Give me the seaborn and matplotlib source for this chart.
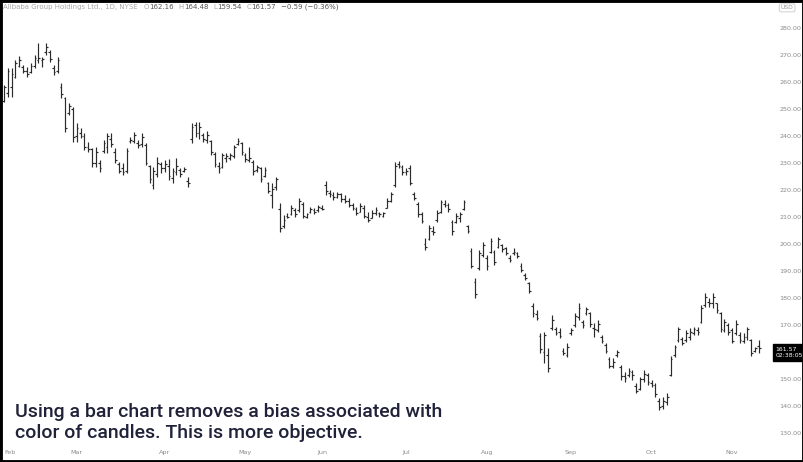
import pandas as pd
import numpy as np
import matplotlib.pyplot as plt
import seaborn as sns
from matplotlib.patches import Rectangle

# Daily OHLC, Alibaba (BABA)
highs = [259.0, 265.0, 265.0, 268.0, 269.7, 266.3, 265.4, 266.9, 270.0, 274.3,
         269.4, 274.3, 271.9, 266.3, 269.4, 259.5, 254.6, 252.1, 250.9, 244.7,
         242.9, 241.0, 237.9, 235.4, 236.0, 231.1, 238.5, 241.0, 241.2, 235.4,
         230.5, 229.9, 235.4, 239.7, 241.6, 238.5, 241.0, 237.3, 229.3, 228.6,
         232.3, 230.5, 231.1, 231.4, 228.0, 231.7, 228.0, 228.6, 224.9, 244.7,
         245.3, 245.3, 241.0, 242.0, 238.5, 234.2, 230.5, 233.8, 233.6, 233.6,
         236.7, 239.1, 237.9, 233.6, 236.0, 231.1, 229.3, 228.6, 228.6, 223.1,
         222.6, 224.9, 215.1, 210.7, 211.4, 214.4, 213.2, 217.2, 215.7, 211.4,
         213.8, 213.4, 214.4, 214.4, 223.3, 220.0, 219.4, 219.4, 218.8, 218.1,
         216.9, 215.1, 213.8, 215.1, 214.4, 212.0, 212.6, 213.8, 212.0, 212.0,
         216.9, 219.4, 230.5, 230.9, 229.3, 228.0, 229.3, 219.4, 215.7, 212.0,
         202.1, 207.0, 206.7, 212.6, 216.3, 216.3, 215.1, 208.9, 211.4, 212.0,
         216.3, 207.0, 198.4, 187.3, 197.8, 200.9, 195.9, 202.1, 197.8, 202.7,
         200.2, 199.0, 195.9, 198.4, 197.2, 192.9, 189.1, 186.0, 178.0, 175.6,
         166.9, 167.5, 161.4, 173.7, 169.4, 168.8, 161.4, 163.2, 168.8, 174.3,
         178.0, 171.9, 176.8, 175.0, 170.6, 171.9, 166.3, 163.2, 158.3, 157.7,
         160.7, 155.2, 152.7, 154.0, 153.3, 148.4, 150.9, 153.3, 152.1, 149.6,
         148.4, 142.9, 143.5, 144.7, 158.5, 162.6, 169.4, 165.7, 168.1, 168.8,
         169.4, 169.4, 177.4, 181.7, 179.9, 182.0, 178.3, 174.9, 172.1, 170.6,
         168.8, 171.9, 167.5, 166.9, 169.4, 165.0, 162.0, 164.48]
lows = [252.6, 254.5, 254.3, 261.4, 265.7, 263.2, 262.0, 263.2, 265.1, 266.9,
        265.7, 270.0, 267.5, 262.6, 263.2, 254.0, 241.6, 247.8, 237.9, 237.9,
        239.1, 234.8, 234.2, 228.6, 228.6, 226.8, 233.6, 233.8, 236.0, 229.9,
        226.2, 225.6, 226.2, 237.3, 237.3, 235.4, 236.0, 229.3, 222.5, 220.4,
        224.9, 226.2, 226.8, 223.7, 222.5, 225.6, 224.9, 226.8, 221.2, 237.3,
        239.7, 238.8, 237.9, 237.3, 233.0, 228.6, 226.2, 228.0, 230.5, 231.1,
        231.7, 236.7, 233.0, 230.5, 230.5, 225.6, 226.8, 223.1, 224.9, 218.8,
        213.3, 220.0, 204.6, 205.8, 209.5, 210.7, 210.1, 212.0, 209.5, 209.5,
        211.4, 211.0, 212.0, 212.6, 218.1, 217.5, 216.3, 216.9, 215.7, 215.1,
        213.8, 212.6, 210.7, 212.0, 209.5, 208.3, 209.5, 210.7, 210.1, 210.1,
        213.2, 215.7, 221.2, 228.0, 225.6, 225.6, 221.9, 216.3, 210.1, 207.7,
        197.8, 201.5, 203.3, 208.3, 211.4, 213.8, 212.0, 203.3, 207.7, 208.3,
        212.6, 204.0, 191.0, 179.9, 190.4, 195.3, 190.4, 196.6, 192.2, 198.4,
        197.2, 195.9, 193.4, 195.9, 194.7, 189.8, 186.7, 181.7, 173.1, 171.9,
        159.5, 155.8, 152.7, 168.1, 166.3, 165.1, 158.9, 158.3, 166.3, 169.4,
        171.9, 169.0, 173.7, 169.4, 165.7, 167.5, 163.2, 159.5, 154.0, 154.0,
        158.3, 149.6, 149.0, 150.9, 149.6, 144.7, 145.9, 149.0, 147.8, 147.2,
        143.5, 138.5, 139.1, 140.4, 151.0, 158.3, 163.8, 162.6, 163.8, 164.4,
        166.3, 166.3, 170.6, 176.8, 176.8, 176.2, 174.3, 167.5, 167.5, 166.3,
        163.2, 166.3, 163.2, 163.2, 164.4, 158.5, 160.1, 159.54]
opens = [253.0, 256.0, 258.0, 262.0, 266.0, 265.5, 264.0, 263.5, 266.0, 268.0,
         268.0, 271.0, 271.0, 265.0, 264.0, 258.0, 254.0, 248.5, 250.0, 240.0,
         241.0, 240.0, 236.0, 235.0, 230.0, 230.0, 234.5, 236.0, 239.0, 234.0,
         229.5, 228.0, 227.0, 238.0, 238.0, 237.5, 237.0, 236.5, 229.0, 222.0,
         226.0, 229.5, 228.0, 229.0, 224.5, 226.5, 227.5, 227.0, 223.5, 239.0,
         244.0, 241.0, 240.5, 238.5, 238.0, 233.5, 229.0, 228.5, 232.0, 232.0,
         232.5, 237.0, 237.5, 233.0, 231.0, 230.5, 227.5, 228.0, 225.0, 222.5,
         218.0, 221.0, 213.0, 206.5, 210.5, 211.0, 212.5, 212.5, 215.0, 210.0,
         212.0, 212.5, 212.5, 213.5, 222.0, 219.0, 218.0, 217.5, 218.5, 216.5,
         216.0, 214.5, 213.0, 212.0, 213.5, 210.0, 209.5, 211.5, 211.5, 210.5,
         213.5, 216.0, 222.0, 229.5, 228.5, 226.5, 228.0, 218.5, 215.0, 211.0,
         200.0, 202.0, 205.0, 209.0, 212.0, 215.0, 214.5, 208.0, 208.0, 209.5,
         213.0, 206.5, 197.5, 186.0, 191.0, 196.0, 195.0, 197.0, 197.0, 199.0,
         199.5, 198.5, 195.0, 196.5, 196.5, 192.0, 188.5, 185.5, 177.0, 174.0,
         166.0, 160.0, 159.0, 169.0, 168.5, 167.5, 160.5, 159.0, 167.0, 170.0,
         173.0, 171.0, 174.5, 174.5, 169.0, 168.0, 165.5, 162.5, 157.5, 155.0,
         159.0, 154.5, 151.0, 151.5, 152.5, 147.5, 146.5, 150.0, 151.5, 148.5,
         148.0, 142.0, 140.0, 141.5, 151.5, 159.0, 164.5, 165.0, 164.5, 165.5,
         167.0, 168.0, 171.0, 177.5, 178.5, 178.0, 178.0, 174.5, 168.0, 170.0,
         168.0, 167.0, 166.5, 164.0, 165.5, 164.5, 160.5, 162.16]
closes = [258.0, 264.0, 263.0, 267.0, 268.0, 264.0, 263.0, 266.0, 269.0, 269.0,
          268.5, 273.0, 268.5, 263.5, 268.0, 255.5, 243.0, 251.0, 239.5, 243.0,
          240.0, 236.0, 235.0, 230.0, 234.0, 228.0, 237.5, 240.0, 237.0, 231.0,
          227.0, 226.5, 234.5, 238.5, 240.5, 236.5, 239.5, 230.0, 224.0, 227.0,
          230.0, 228.0, 229.5, 225.0, 227.0, 229.0, 226.0, 227.8, 222.5, 243.5,
          241.0, 243.5, 239.0, 240.5, 234.0, 229.5, 228.0, 233.0, 232.5, 232.8,
          236.0, 238.0, 234.0, 231.5, 232.0, 227.0, 228.5, 224.0, 227.5, 219.5,
          220.5, 224.0, 206.0, 209.0, 210.0, 213.5, 211.0, 216.0, 210.5, 211.0,
          213.0, 212.0, 213.8, 213.0, 219.5, 218.5, 217.5, 218.5, 216.5, 216.0,
          214.5, 213.5, 211.5, 214.0, 210.5, 209.0, 211.5, 212.5, 211.0, 211.5,
          216.0, 218.5, 229.0, 229.0, 226.5, 227.0, 222.5, 217.0, 211.0, 208.5,
          199.0, 206.0, 204.5, 211.5, 215.5, 214.5, 213.0, 205.0, 210.5, 211.0,
          215.5, 205.0, 192.0, 181.5, 196.5, 199.5, 192.0, 201.0, 193.5, 202.0,
          198.0, 196.5, 194.0, 197.0, 195.5, 190.5, 187.5, 182.5, 174.5, 172.5,
          161.0, 166.5, 154.0, 172.0, 167.0, 166.0, 159.5, 162.0, 168.0, 173.5,
          176.5, 170.0, 176.0, 170.5, 168.5, 170.5, 164.0, 160.5, 155.0, 156.5,
          160.0, 151.0, 150.5, 153.0, 151.5, 145.5, 150.0, 152.0, 149.0, 148.0,
          144.5, 139.5, 142.0, 143.5, 157.5, 162.0, 168.5, 163.5, 167.0, 167.5,
          168.5, 167.5, 176.5, 180.5, 178.0, 180.5, 175.5, 168.5, 171.0, 167.5,
          164.0, 170.5, 164.5, 165.5, 168.5, 159.5, 161.5, 161.57]

us_holidays = ['2021-02-15', '2021-04-02', '2021-05-31', '2021-07-05', '2021-09-06']
# 160 is hidden behind the last-price tag in the reference
price_ticks = [130, 140, 150, 170, 180, 190, 200, 210, 220, 230, 240, 250, 260, 270, 280]

title_name = 'Alibaba Group Holdings Ltd., 1D, NYSE'
ohlc_last = [('O', '162.16'), ('H', '164.48'), ('L', '159.54'), ('C', '161.57')]
change_text = '\u22120.59 (\u22120.36%)'
countdown = '02:38:05'
note = 'Using a bar chart removes a bias associated with\ncolor of candles. This is more objective.'

df = pd.DataFrame({'open': opens, 'high': highs, 'low': lows, 'close': closes})
df['date'] = pd.bdate_range('2021-02-01', periods=len(df), freq='C', holidays=us_holidays)
df['i'] = np.arange(len(df))

sns.set_theme(style='white')
plt.rcParams['font.family'] = ['DejaVu Sans']

fig = plt.figure(figsize=(8.04, 4.62), dpi=100)
ax = fig.add_axes([0.0025, 0.032, 0.958, 0.962])

bar_color = '#2b2b2b'
ax.vlines(df['i'], df['low'], df['high'], color=bar_color, lw=0.85)
ax.hlines(df['open'], df['i'] - 0.45, df['i'], color=bar_color, lw=0.85)
ax.hlines(df['close'], df['i'], df['i'] + 0.45, color=bar_color, lw=0.85)

ax.set_xlim(-0.5, 200.5)
ax.set_ylim(124.8, 289.3)

# month labels at first trading day of each month
first_days = df.groupby(df['date'].dt.to_period('M'))['i'].min()
ax.set_xticks(first_days.values)
xlabels = ax.set_xticklabels([p.strftime('%b') for p in first_days.index])
xlabels[0].set_horizontalalignment('left')
ax.yaxis.tick_right()
ax.set_yticks(price_ticks)
ax.set_yticklabels([f'{t:.2f}' for t in price_ticks])
ax.tick_params(axis='both', length=0, labelsize=4.6, labelcolor='#8a8a8a')
ax.tick_params(axis='y', pad=5)
ax.tick_params(axis='x', pad=2)
sns.despine(ax=ax, left=True, bottom=True, right=True, top=True)
ax.grid(False)

# header line
x0 = 0.004
t = fig.text(x0, 0.985, title_name, fontsize=5, color='#a8a8a8', va='center')
fig.canvas.draw()
r = fig.canvas.get_renderer()
xpos = t.get_window_extent(r).x1 + 6
for lab, val in ohlc_last:
    a = fig.text(xpos / 804, 0.985, lab, fontsize=5, color='#a8a8a8', va='center')
    xpos = a.get_window_extent(r).x1
    b = fig.text(xpos / 804, 0.985, val, fontsize=5, color='#555555', va='center')
    xpos = b.get_window_extent(r).x1 + 5
fig.text(xpos / 804, 0.985, change_text, fontsize=5, color='#555555', va='center')

# currency tag
fig.text(0.979, 0.983, 'USD', fontsize=4.3, color='#9a9a9a', ha='center', va='center',
         bbox=dict(boxstyle='round,pad=0.25', fc='white', ec='#c8c8c8', lw=0.6))

# last price tag
ax.annotate(f'{closes[-1]:.2f}\n{countdown}', xy=(1.0, closes[-1]), xycoords=('axes fraction', 'data'),
            xytext=(2.5, -3.2), textcoords='offset points', fontsize=4.4, color='white',
            ha='left', va='center', linespacing=1.4, zorder=20,
            bbox=dict(boxstyle='square,pad=0.45', fc='black', ec='black'), annotation_clip=False)

# annotation
fig.text(0.0185, 0.043, note, fontsize=14, color='#1f2238', ha='left', va='bottom',
         family=['Roboto', 'DejaVu Sans'], weight='medium', linespacing=1.22)

# black frame
fig.patches.append(Rectangle((0, 0), 1, 1, transform=fig.transFigure, fill=False,
                             ec='black', lw=3.5, zorder=10))

fig.savefig('out.png', dpi=100)
